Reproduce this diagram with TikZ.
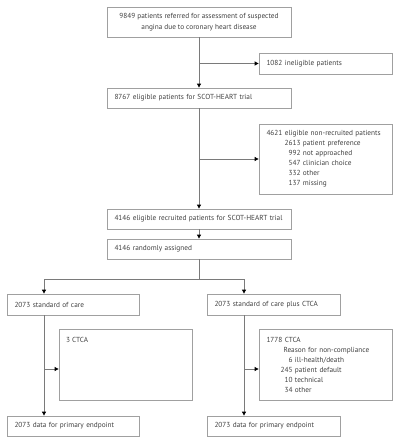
\documentclass[tikz,border=0pt]{standalone}
\usepackage{fontspec}
\setmainfont{PT Sans}
\usetikzlibrary{arrows.meta}
\definecolor{boxgray}{HTML}{A0A0A0}
\definecolor{linegray}{HTML}{7A7A7A}
\definecolor{txt}{HTML}{404040}
\newcommand{\fs}{\fontsize{7.3}{10}\selectfont}
\newcommand{\nm}[2]{\makebox[#1][r]{#2}}
\begin{document}
\begin{tikzpicture}[x=1pt,y=-1pt,
  box/.style={draw=boxgray, line width=0.8pt, inner ysep=0pt, text=txt, font=\fs},
  lbox/.style={box, align=left, inner xsep=7.5pt},
  cbox/.style={box, align=center, inner xsep=4pt},
  conn/.style={draw=linegray, line width=0.8pt},
  arr/.style={conn, -{Triangle[length=4pt,width=4pt,color=black]}}]
\useasboundingbox (0,0) rectangle (400,444);

\node[cbox, minimum width=184pt, minimum height=30pt, font=\fontsize{7.3}{11}\selectfont] (b1) at (199,22)
  {9849 patients referred for assessment of suspected\\angina due to coronary heart disease};
\node[lbox, text width=118pt, minimum height=21pt] (inel) at (325.5,63.5) {1082 ineligible patients};
\node[lbox, text width=169pt, minimum height=20pt] (b2) at (199,98) {8767 eligible patients for SCOT-HEART trial};
\node[lbox, text width=118pt, minimum height=70pt] (nonrec) at (325.5,159)
  {4621 eligible non-recruited patients\\
   \nm{34pt}{2613} patient preference\\
   \nm{34pt}{992} not approached\\
   \nm{34pt}{547} clinician choice\\
   \nm{34pt}{332} other\\
   \nm{34pt}{137} missing};
\node[lbox, text width=169pt, minimum height=20pt] (b3) at (199,219) {4146 eligible recruited patients for SCOT-HEART trial};
\node[lbox, text width=169pt, minimum height=20pt] (b4) at (199,249) {4146 randomly assigned};

\node[lbox, text width=117pt, minimum height=21pt] (soc) at (73,304.5) {2073 standard of care};
\node[lbox, text width=118pt, minimum height=21pt] (ctca) at (273.5,304.5) {2073 standard of care plus CTCA};

\node[box, minimum width=133pt, minimum height=71pt] (l3) at (125.5,364.5) {};
\node[text=txt, font=\fs, anchor=base west, inner sep=0pt] (l3t) at (66,342.5) {3 CTCA};
\node[lbox, text width=118pt, minimum height=71pt] (r3) at (325.5,364.5)
  {1778 CTCA\\
   \hspace*{17pt}Reason for non-compliance\\
   \nm{26pt}{6} ill-health/death\\
   \nm{26pt}{245} patient default\\
   \nm{26pt}{10} technical\\
   \nm{26pt}{34} other};

\node[lbox, text width=117pt, minimum height=20pt] (lb) at (73,426) {2073 data for primary endpoint};
\node[lbox, text width=118pt, minimum height=20pt] (rb) at (273.5,426) {2073 data for primary endpoint};

% connectors
\draw[arr] (b1.south) -- (b2.north);
\draw[arr] (b1.south |- inel.west) -- (inel.west);
\draw[arr] (b2.south) -- (b3.north);
\draw[arr] (b2.south |- nonrec.west) -- (nonrec.west);
\draw[arr] (b3.south) -- (b4.north);

\coordinate (s) at (199,279);
\coordinate (sl) at (44,279);
\coordinate (sr) at (244,279);
\draw[conn] (b4.south) -- (s);
\draw[conn] (sl) -- (sr);
\draw[arr] (sl) -- (sl |- soc.north);
\draw[arr] (sr) -- (sr |- ctca.north);

\coordinate (jl) at (44,369);
\coordinate (jr) at (244,369);
\draw[arr] (sl |- soc.south) -- (sl |- lb.north);
\draw[arr] (jl) -- (jl -| l3.west);
\draw[arr] (sr |- ctca.south) -- (sr |- rb.north);
\draw[arr] (jr) -- (jr -| r3.west);
\end{tikzpicture}
\end{document}
